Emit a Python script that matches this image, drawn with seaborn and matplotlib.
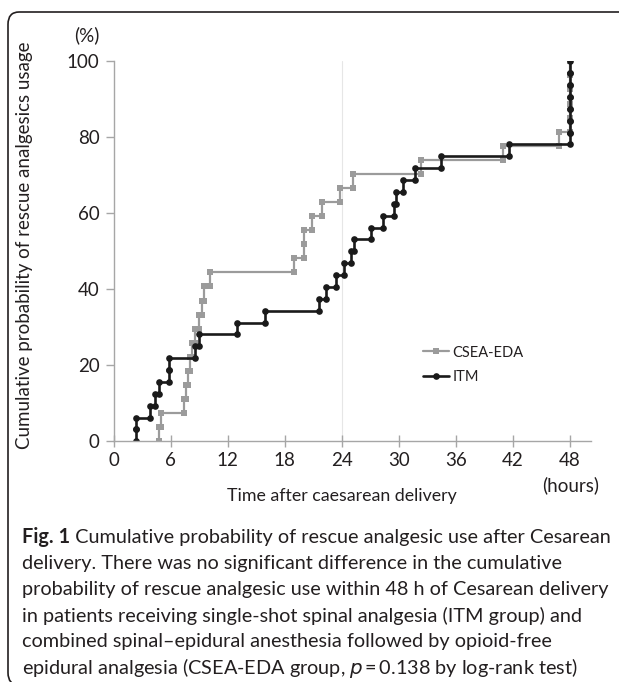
import numpy as np
import pandas as pd
import matplotlib
matplotlib.use('Agg')
import matplotlib.pyplot as plt
import seaborn as sns
from matplotlib.patches import FancyBboxPatch

# Event times (hours), one entry per patient needing rescue analgesia
csea_times = [4.8, 5.0, 7.4, 7.6, 7.8, 8.0, 8.3, 8.6, 9.0, 9.3, 9.5, 10.1,
              19.0, 20.0, 20.0, 20.9, 21.9, 23.8, 25.2, 32.4, 41.0, 46.9,
              48, 48, 48, 48, 48]
itm_times = [2.4, 2.4, 3.8, 4.4, 4.8, 5.8, 5.8, 8.6, 9.0, 13.0, 15.9,
             21.6, 22.4, 23.4, 24.2, 25.0, 25.3, 27.1, 28.3, 29.5, 29.7,
             30.5, 31.7, 34.5, 41.6, 48, 48, 48, 48, 48, 48, 48]
groups = ['CSEA-EDA', 'ITM']
x_ticks = [0, 6, 12, 18, 24, 30, 36, 42, 48]
y_ticks = [0, 20, 40, 60, 80, 100]

caption_bold = 'Fig. 1'
caption_lines = [
    ' Cumulative probability of rescue analgesic use after Cesarean',
    'delivery. There was no significant difference in the cumulative',
    'probability of rescue analgesic use within 48 h of Cesarean delivery',
    'in patients receiving single-shot spinal analgesia (ITM group) and',
    'combined spinal\u2013epidural anesthesia followed by opioid-free',
    'epidural analgesia (CSEA-EDA group, $\\it{p}$\u2009=\u20090.138 by log-rank test)',
]


def step_frame(times, name):
    """Cumulative incidence as a staircase: one point before and after each event."""
    n = len(times)
    rows = []
    for i, t in enumerate(times):
        rows.append((t, 100.0 * i / n))
        rows.append((t, 100.0 * (i + 1) / n))
    df = pd.DataFrame(rows, columns=['time', 'pct'])
    df['group'] = name
    return df


W, H = 619, 682
sns.set_style('white')
plt.rcParams['font.family'] = ['Lato', 'DejaVu Sans']
TXT = '#231f20'
AX = '#a6a6a6'
FS = 13.5

fig = plt.figure(figsize=(W / 100, H / 100), dpi=100)


def fx(px):
    return px / W


def fy(py):
    return 1 - py / H


ax = fig.add_axes([fx(113.5), fy(441.3), fx(590.7) - fx(113.5), fy(61.3) - fy(441.3)])

ax.axvline(24, color='#e6e6e6', lw=0.8, zorder=0)

csea = step_frame(csea_times, groups[0])
itm = step_frame(itm_times, groups[1])
sns.lineplot(data=csea, x='time', y='pct', sort=False, estimator=None, ax=ax,
             color='#9b9b9b', lw=1.6, marker='s', markersize=5,
             markeredgewidth=0, label=groups[0])
sns.lineplot(data=itm, x='time', y='pct', sort=False, estimator=None, ax=ax,
             color='#1a1a1a', lw=1.9, marker='o', markersize=4.8,
             markeredgewidth=0, label=groups[1])

ax.set_xlim(0, 50.2)
ax.set_ylim(0, 100)
ax.set_xticks(x_ticks)
ax.set_yticks(y_ticks)
ax.set_xlabel('')
ax.set_ylabel('')
for s in ['top', 'right']:
    ax.spines[s].set_visible(False)
for s in ['left', 'bottom']:
    ax.spines[s].set_color(AX)
    ax.spines[s].set_linewidth(1.0)
ax.tick_params(axis='x', direction='inout', length=8, width=1.0, color=AX,
               labelsize=FS, labelcolor=TXT, pad=4)
ax.tick_params(axis='y', direction='out', length=6, width=1.0, color=AX,
               labelsize=FS, labelcolor=TXT, pad=4)
ax.tick_params(bottom=True, left=True)

leg = ax.legend(loc='center left', bbox_to_anchor=(fx(423), fy(365)),
                bbox_transform=fig.transFigure, frameon=False, fontsize=10.5,
                handlelength=1.8, handletextpad=0.2, labelspacing=0.75,
                borderpad=0, borderaxespad=0)
for t in leg.get_texts():
    t.set_color(TXT)

fig.text(fx(87), fy(35), '(%)', ha='center', va='center', fontsize=FS, color=TXT)
fig.text(fx(571), fy(485), '(hours)', ha='center', va='center', fontsize=FS, color=TXT)
fig.text(fx(342), fy(496), 'Time after caesarean delivery', ha='center',
         va='center', fontsize=12.8, color=TXT)
fig.text(fx(25), fy(245), 'Cumulative probability of rescue analgesics usage',
         ha='center', va='center', rotation=90, fontsize=FS, color=TXT)

# caption, font size fitted so the first line spans the panel width
renderer = fig.canvas.get_renderer()
x0 = fx(22)
line_y = [537, 563, 590, 616, 642, 668]
probe = fig.text(0, 0, caption_bold + caption_lines[0], fontsize=12, fontweight='normal')
pw = probe.get_window_extent(renderer=renderer).width
probe.remove()
cap_fs = 12 * 586 / pw

b = fig.text(x0, fy(line_y[0]), caption_bold, fontsize=cap_fs, fontweight='bold',
             color=TXT, va='center', ha='left')
bw = b.get_window_extent(renderer=renderer).width / W
fig.text(x0 + bw, fy(line_y[0]), caption_lines[0], fontsize=cap_fs, color=TXT,
         va='center', ha='left')
for yy, line in zip(line_y[1:], caption_lines[1:]):
    fig.text(x0, fy(yy), line, fontsize=cap_fs, color=TXT, va='center', ha='left')

# rounded frame around the figure panel (right and bottom edges run off the crop)
frame = FancyBboxPatch((fx(8), fy(685)), fx(660) - fx(8), fy(12) - fy(685),
                       boxstyle='round,pad=0,rounding_size=0.018',
                       transform=fig.transFigure, fill=False,
                       edgecolor='#231f20', lw=1.2, clip_on=False)
fig.patches.append(frame)

fig.savefig('out.png', dpi=100)
